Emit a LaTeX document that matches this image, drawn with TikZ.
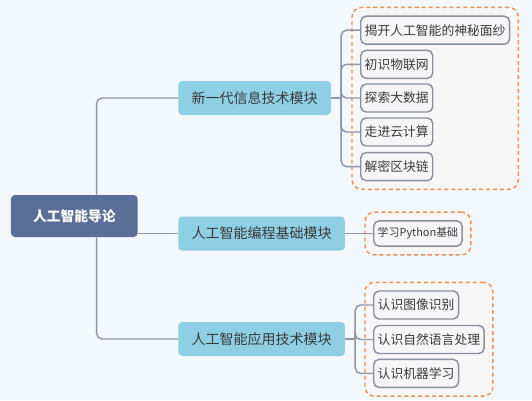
\documentclass[tikz,border=0pt]{standalone}
\usepackage{fontspec}
\setmainfont{Noto Sans CJK SC}
\usepackage{tikz}
\usetikzlibrary{backgrounds, fit, positioning, calc}
\definecolor{page_bg}{HTML}{F3F8FC}
\definecolor{root_fill}{HTML}{5A6F98}
\definecolor{module_fill}{HTML}{8ECFE3}
\definecolor{leaf_fill}{HTML}{F6F6F8}
\definecolor{leaf_line}{HTML}{8A909D}
\definecolor{branch_line}{HTML}{9097A5}
\definecolor{group_line}{HTML}{EE9156}
\definecolor{group_fill}{HTML}{F7F7F8}
\definecolor{text_dark}{HTML}{3A3A3A}
\tikzset{
  module_font/.style = {font=\fontsize{10.5}{12}\selectfont},
  leaf_font/.style = {font=\fontsize{9.6}{12}\selectfont},
  small_font/.style = {font=\fontsize{8.2}{10}\selectfont},
  root_font/.style = {font=\fontsize{10.3}{12}\selectfont\bfseries}
}
\tikzset{
  root_node/.style = {root_font, text=white, fill=root_fill, rounded corners=3,
    minimum width=95pt, minimum height=31.5pt},
  module_node/.style = {module_font, text=text_dark, fill=module_fill, rounded corners=3,
    inner xsep=10pt, minimum height=25.5pt, anchor=west},
  leaf_node/.style = {leaf_font, text=text_dark, fill=leaf_fill, draw=leaf_line, line width=1.1pt,
    rounded corners=4, inner xsep=3pt, minimum height=21pt, anchor=west},
  leaf_small/.style = {leaf_node, small_font, minimum height=19pt},
  group_box/.style = {draw=group_line, fill=group_fill, line width=1.1pt,
    dash pattern=on 3pt off 2.2pt, rounded corners=7, inner sep=6pt},
  branch/.style = {draw=branch_line, line width=1.1pt, rounded corners=4}
}

\begin{document}
\begin{tikzpicture}[x=0.75pt, y=-0.75pt]{

        % Page
        \begin{scope}[on background layer]
            \fill[page_bg] (0,0) rectangle (532,400);
        \end{scope}
        \useasboundingbox (0,0) rectangle (532,400);

        % Root and modules
        \node[root_node] (root) at (74.3,216) {人工智能导论};
        \node[module_node] (m_1) at (178,98) {新一代信息技术模块};
        \node[module_node] (m_2) at (178,233.5) {人工智能编程基础模块};
        \node[module_node] (m_3) at (178,339) {人工智能应用技术模块};

        % Leaves
        \node[leaf_node] (l_1) at (360,30.2) {揭开人工智能的神秘面纱};
        \node[leaf_node] (l_2) at (360,64.3) {初识物联网};
        \node[leaf_node] (l_3) at (360,98) {探索大数据};
        \node[leaf_node] (l_4) at (360,132) {走进云计算};
        \node[leaf_node] (l_5) at (360,166.6) {解密区块链};

        \node[leaf_small] (p_1) at (373,233.5) {学习Python基础};

        \node[leaf_node] (a_1) at (373,305) {认识图像识别};
        \node[leaf_node] (a_2) at (373,339.5) {认识自然语言处理};
        \node[leaf_node] (a_3) at (373,373.4) {认识机器学习};

        % Fork points
        \coordinate (trunk) at (96.7,216);
        \coordinate (f_1) at ([xshift=7.5pt]m_1.east);
        \coordinate (f_3) at ([xshift=7.5pt]m_3.east);

        % Group boxes
        \begin{scope}[on background layer]
            \node[group_box, fit=(l_1)(l_2)(l_3)(l_4)(l_5)] (g_1) {};
            \node[group_box, fit=(p_1)] (g_2) {};
            \node[group_box, fit=(a_1)(a_2)(a_3)] (g_3) {};
        \end{scope}

        % Arrows and lines
        \draw[branch] (root.north -| trunk) |- (m_1.west);
        \draw[branch] (root.south -| trunk) |- (m_3.west);
        \draw[branch] (m_2.west -| root.east) -- (m_2.west);

        \draw[branch] (m_1.east) -- (f_1);
        \foreach \n in {1,...,5}
            \draw[branch] (f_1) |- (l_\n.west);

        \draw[branch] (m_2.east) -- (p_1.west);

        \draw[branch] (m_3.east) -- (f_3);
        \foreach \n in {1,...,3}
            \draw[branch] (f_3) |- (a_\n.west);
        }
\end{tikzpicture}
\end{document}
